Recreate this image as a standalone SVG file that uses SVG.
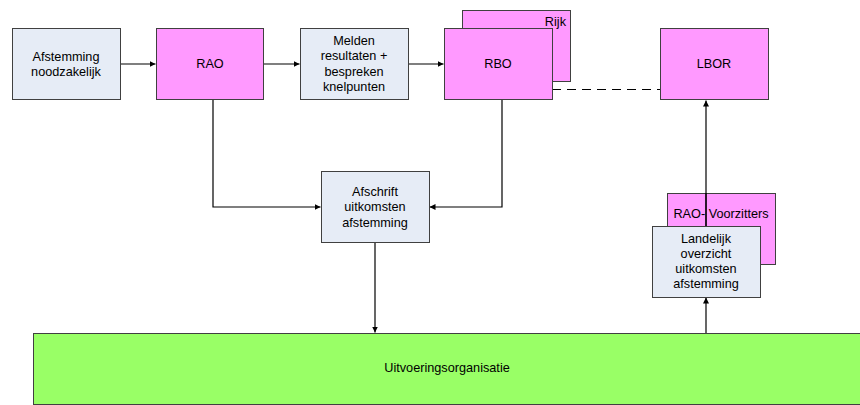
<svg xmlns="http://www.w3.org/2000/svg" width="860" height="405" viewBox="0 0 860 405">
<style>
.box{stroke:#404040;stroke-width:1}
.blue{fill:#E6ECF6}
.pink{fill:#FF99FF}
.green{fill:#99FF66}
text{font-family:"Liberation Sans",Arial,sans-serif;font-size:12.7px;fill:#000}
.c{text-anchor:middle}
.ln{fill:none;stroke:#000;stroke-width:1.2}
</style>
<defs>
<marker id="ah" viewBox="0 0 6 6" refX="6" refY="3" markerWidth="6" markerHeight="6" markerUnits="userSpaceOnUse" orient="auto">
<path d="M0,0 L6,3 L0,6 Z" fill="#000"/>
</marker>
</defs>
<rect width="860" height="405" fill="#fff"/>
<g id="rijk"><rect class="box pink" x="462.5" y="10.5" width="108" height="71"/><text x="566" y="26" text-anchor="end">Rijk</text></g>
<g id="raovoorzitters"><rect class="box pink" x="667.5" y="193.5" width="108" height="71"/><text class="c" x="721" y="218">RAO- Voorzitters</text></g>
<g id="connectors">
<path class="ln" d="M120,64 H155.5" marker-end="url(#ah)"/>
<path class="ln" d="M263,64 H299.5" marker-end="url(#ah)"/>
<path class="ln" d="M408,64 H443.5" marker-end="url(#ah)"/>
<path class="ln" d="M213,100 V207 H320.5" marker-end="url(#ah)"/>
<path class="ln" d="M502,100 V207 H429.5" marker-end="url(#ah)"/>
<path class="ln" d="M375,243 V332.5" marker-end="url(#ah)"/>
<path class="ln" d="M706,333 V297.5" marker-end="url(#ah)"/>
<path class="ln" d="M706,226 V100.5" marker-end="url(#ah)"/>
<path class="ln" d="M552,89.5 H660" stroke-dasharray="9,6"/>
</g>
<g id="afstemming"><rect class="box blue" x="12.5" y="28.5" width="108" height="71"/><text class="c" x="66" y="61">Afstemming</text><text class="c" x="66" y="75.5">noodzakelijk</text></g>
<g id="rao"><rect class="box pink" x="156.5" y="28.5" width="107" height="71"/><text class="c" x="210" y="68">RAO</text></g>
<g id="melden"><rect class="box blue" x="300.5" y="28.5" width="108" height="71"/><text class="c" x="354" y="45">Melden</text><text class="c" x="354" y="60">resultaten +</text><text class="c" x="354" y="75.5">bespreken</text><text class="c" x="354" y="90.5">knelpunten</text></g>
<g id="rbo"><rect class="box pink" x="444.5" y="28.5" width="108" height="71"/><text class="c" x="498" y="68">RBO</text></g>
<g id="lbor"><rect class="box pink" x="660.5" y="28.5" width="108" height="71"/><text class="c" x="714" y="68">LBOR</text></g>
<g id="afschrift"><rect class="box blue" x="321.5" y="171.5" width="108" height="71"/><text class="c" x="375" y="196">Afschrift</text><text class="c" x="375" y="211">uitkomsten</text><text class="c" x="375" y="226.5">afstemming</text></g>
<g id="landelijk"><rect class="box blue" x="652.5" y="226.5" width="108" height="71"/><text class="c" x="706" y="243">Landelijk</text><text class="c" x="706" y="257.5">overzicht</text><text class="c" x="706" y="273">uitkomsten</text><text class="c" x="706" y="288">afstemming</text></g>
<g id="uitvoering"><rect class="box green" x="33.5" y="333.5" width="830" height="71"/><text class="c" x="447" y="372">Uitvoeringsorganisatie</text></g>
<path class="ln" d="M706,193 V226"/>
</svg>
